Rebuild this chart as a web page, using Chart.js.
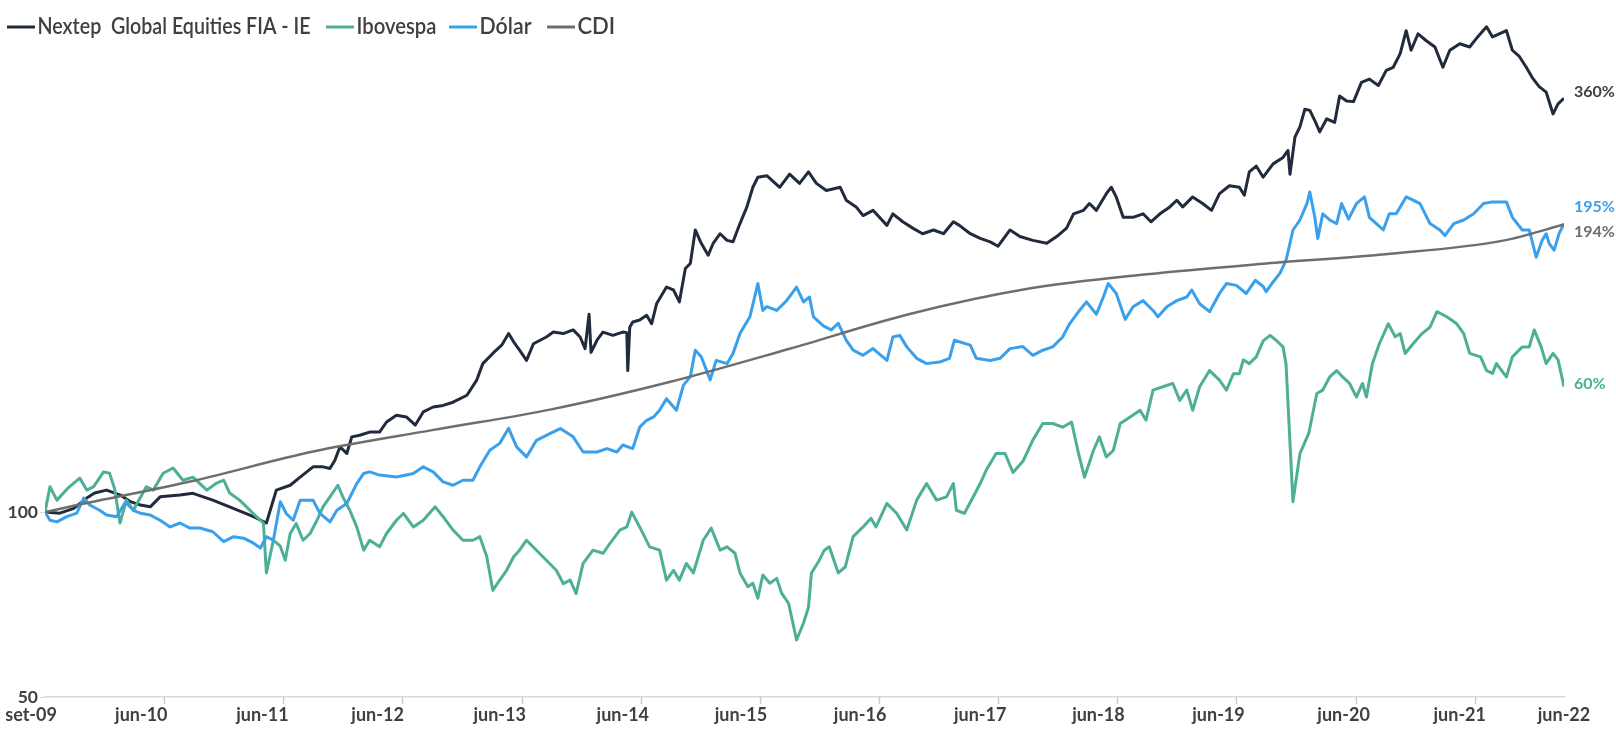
<!DOCTYPE html>
<html>
<head>
<meta charset="utf-8">
<script src="https://cdn.jsdelivr.net/npm/chart.js@4.4.1/dist/chart.umd.min.js"></script>
<style>
  html, body { margin: 0; padding: 0; background: #fff; }
  canvas { display: block; }
</style>
</head>
<body>
<canvas id="myChart" width="1616" height="739"></canvas>
<script>
// months counted from set-09 (0) to jun-22 (153), values are index levels (base 100)
const nextepMonths = [0,1.5,2.9,4.2,5,6.2,7.6,8.6,9.6,10.6,
  11.6,13.6,14.9,16.9,18.9,21,22.3,23.3,24.7,25.7,
  27,28,28.7,29.2,29.7,30.4,30.9,31.7,32.7,33.7,
  34.4,35.4,36.4,37.3,38.1,39.1,40.1,41.1,42.5,43.5,
  44.1,45.1,46,46.7,47.2,47.8,48.5,49.2,50.5,51.2,
  52.2,53.2,53.9,54.4,54.8,55,55.6,56.2,57.2,58.2,
  58.6,58.7,58.9,59.2,59.9,60.6,61.1,61.6,62.6,63.3,
  63.9,64.5,65,65.5,66.1,66.8,67.3,68,68.7,69.3,
  70,70.7,71.3,71.8,72.7,74,75,76,76.9,77.7,
  78.7,80.1,80.7,81.7,82.4,83.4,84.8,85.4,86.4,87.4,
  88.4,89.5,90.5,91.5,92.1,93.2,94.2,95.2,96,97.2,
  98.2,99.5,100.9,101.9,102.9,103.6,104.6,105.2,105.9,106.9,
  107.4,107.9,108.6,109.6,110.6,111.4,112.3,113.3,114,114.6,
  115.6,116.6,117.5,118.3,119.3,120.3,120.8,121.3,122,122.7,
  123.7,124.7,125.2,125.4,125.9,126.4,126.9,127.4,127.9,128.4,
  129.1,129.9,130.4,131.1,131.8,132.6,133.4,134.3,135.1,135.8,
  136.5,137.1,137.6,138.3,139.1,140,140.8,141.5,142.5,143.5,
  144.3,145.2,145.8,147.2,147.8,148.5,149.2,149.8,150.5,151.2,
  151.9,152.4,153];
const nextepValues = [100,99.6,101.4,105.4,107.4,108.6,106.6,104,102.7,102,
  105.9,106.6,107.3,104.6,101.5,98.3,96,108.6,110.6,114,
  118.5,118.5,117.8,121.5,127.7,124.6,132.6,133.4,135,135,
  140.2,143.8,142.9,138.6,145.6,148.3,149.2,151,155,164.2,
  174.5,181.3,187,195.3,189.4,183.5,176.6,188,192.8,196.4,
  195.3,198,192.8,184.6,210,182,190.5,196.4,194,196.4,
  196,170,200,204,205.5,209.2,202.6,218.4,232.5,230,
  220,249.3,254,288,274,262,274,284,277,275.5,
  295,314,338,351,353,338,355,343,358,343,
  334,338,322,314,304,310,293,306,297,290,
  284,288,284,297,293,284,279,275.5,271,288,
  281,277,274,281,290,306,310,318,310,330,
  338,326,302,302,306,297,306,314,322,314,
  326,318,310,330,340,338,328,358,366,351,
  369,378,388,355,408,424,453,451,434,416,
  437,431,476,467,466,501,507,495,524,530,
  558,608,565,601,586,572,530,565,579,572,
  594,617,594,608,565,552,530,510,493,483,
  445,462,472];

const ibovMonths = [0,0.5,1.2,2.3,3.5,4.2,4.9,5.9,6.5,7,
  7.55,8.2,8.9,10.2,10.9,11.9,12.9,13.9,14.9,16.3,
  17.3,18,18.6,19.6,20.3,21.3,22,22.3,23,23.7,
  24.2,24.7,25.3,26,26.7,27.4,28,28.7,29.5,30,
  30.7,31.4,32.1,32.7,33.7,34.4,35.4,36.1,37.1,38.1,
  39.3,40.1,41.1,42.1,43.1,43.8,44.5,45.1,45.8,46.5,
  47.2,47.8,48.5,49.5,50.5,51.5,52.2,52.9,53.5,54.2,
  55.2,56.2,56.9,57.9,58.6,59.1,59.9,60.9,61.9,62.6,
  63.3,63.9,64.6,65.3,66.3,67.1,68,68.7,69.5,70,
  70.8,71.3,71.8,72.3,73,73.7,74.2,74.9,75.7,76.4,
  76.9,77.2,77.9,78.5,79,79.9,80.6,81.4,82.4,83.2,
  83.7,84.8,85.8,86.8,87.8,88.8,89.8,90.8,91.5,91.8,
  92.6,93.5,94.2,94.8,95.8,96.7,97.5,98.5,99.5,100.5,
  101.5,102.5,103.4,104.1,104.7,105.6,106.2,106.9,107.6,108.3,
  109.3,110.3,110.9,111.6,112.6,113.6,114.3,115,115.6,116.3,
  117.3,118.3,119,119.7,120.3,120.7,121.3,122,122.7,123.4,
  124,124.7,125,125.7,126.4,127.3,128.1,128.7,129.4,130.1,
  130.7,131.4,132.1,132.7,133.1,133.7,134.4,135.3,136,136.5,
  137,137.8,138.7,139.5,140.2,141.2,142.2,142.9,143.5,144.6,
  145.2,145.8,146.2,147.2,147.8,148.8,149.5,150,150.7,151.2,
  151.9,152.4,153];
const ibovValues = [100,110,104.6,109.4,113.6,108.6,110,116.3,115.7,109.4,
  96,104.6,100.7,110,108.6,115.7,118,112.7,114,108.6,
  111.5,112.7,107.4,104.6,102,98.3,96,79.6,90,88,
  83.5,92.3,95.8,90,92.3,97,102,105.9,110.6,105.9,
  100.7,94.6,86.7,90,87.8,92.3,97,99.5,94.6,97,
  102,98.3,93.5,90,90,91.2,84.6,74.6,77.5,80.4,
  84.6,86.7,90,86.7,83.5,80.4,76.5,77.5,73.7,82.5,
  86.7,85.7,88.9,93.5,94.6,100,94.6,87.8,86.7,77.5,
  80.4,77.5,82.5,79.6,90,94.2,86.7,87.8,85.7,79.6,
  75.6,76.6,72.4,79,76.6,78,73.8,71,61.9,66,
  70,79.6,83,86.7,87.8,79.6,81.4,91.2,94.6,97.7,
  94.6,103.3,99.5,93.5,104.6,111.3,104.6,105.9,111.3,100.7,
  99.5,105.9,111.3,117,124.6,124.6,116,121,131,139.4,
  139.4,137.5,140.2,124.6,114,126,132.6,123,126,139.4,
  142.9,146.5,141.1,158,160,162,152,158,146.5,160,
  170,164,158,168,168,177,174.5,179,190,194,
  190.5,185.8,174.5,104,124.5,134.5,156,158,166,170,
  166,162,154,162,154,174.5,188,202.6,193,195.3,
  181.3,188,195.3,200,212,208,202.6,195.3,181.3,179,
  170,168.2,174.5,166,179,185.8,185.8,198,185.8,174.5,
  181.3,177,160];

const dolarMonths = [0,0.5,1.2,2.2,3.2,3.9,4.5,5.5,6.2,7.2,
  8.1,8.9,9.6,10.6,11.6,12.6,13.6,14.6,15.6,16.9,
  18,19,20,21,21.7,22.3,23,23.7,24.3,25,
  25.7,27,27.7,28.7,29.4,30.4,31.4,32.1,32.7,33.7,
  35.4,37.1,38.1,39.1,40.1,41.1,42.1,43.1,43.8,44.8,
  45.8,46.7,47.5,48.5,49.5,50.9,51.9,53.2,54.2,55.6,
  56.6,57.6,58.2,59.2,59.9,60.6,61.3,61.9,62.6,63.6,
  64.3,65,65.5,66.1,67,67.6,68.7,69.3,70,71,
  71.8,72.3,72.7,73.7,74.7,75.7,76.4,77,77.4,78.4,
  79.2,79.9,80.7,81.4,82.4,83.4,84.8,85.4,86.1,86.8,
  87.8,88.8,90.1,91.1,91.6,93.2,93.8,95.2,96.2,97.2,
  98.5,99.5,100.5,101.5,102.5,103.2,104.2,104.9,105.9,106.6,
  107.1,107.9,108.8,109.6,110.6,111.6,112.1,113,114,115,
  115.5,116.3,117.3,118.3,119,120,121,121.9,122.7,123,
  123.7,124.4,125,125.4,125.7,126.4,127.1,127.4,127.9,128.2,
  128.7,129.4,130.1,130.6,131.3,132.1,132.9,133.4,134.1,134.8,
  135.4,136.1,137.1,137.8,138.5,139.5,140.5,141,141.9,142.9,
  143.9,144.9,145.8,147.2,147.8,148.8,149.5,150.2,150.8,151.2,
  151.5,152,152.5,153];
const dolarValues = [100,97,96.4,98.3,99.6,105.4,102.7,100.7,98.9,98.3,
  103.8,100.7,99.6,98.9,97,94.6,96,94.2,94.2,92.9,
  89.5,91.2,90.7,89,87.4,91.2,90,104,99.5,97,
  104.6,104.6,99.5,96.4,100.7,103.3,111.3,115.6,116.3,114.9,
  114.1,115.6,118.5,116.3,112,110.6,112.7,112.7,118.5,126.1,
  129.4,136.9,127.7,123,130.9,134.3,136.8,132.6,125.3,125.3,
  126.9,125.3,128.6,126.9,137.5,141.1,142.9,146.5,153,146.5,
  160.8,166.2,183.5,179,164.2,176.6,174.5,181.3,195.3,208,
  235.6,213,216,213,221,232.5,220,224,208,201,
  198,203,190.5,183.5,180,184.6,176.6,192.8,194,185.8,
  178,174.5,175.5,178,190.5,187,178,176.6,178,184.6,
  186,180,183.5,185.8,192.8,202.6,213,220,210,224,
  235.6,227,206,216,221,213,208,216,221,224,
  230,218.4,212,227,235.6,234,227,238.5,233,228.5,
  237,245,257,274,288,299,318,332,302,279,
  306,299,295,318,300,318,326,302,295,288,
  306,306,326,322,318,295,288,282,295,299,
  306,318,320,320,302,288,288,260,277,284,
  274,267,284,295];

const cdiMonths = [0,3,15,27,39,51,63,75,87,99,111,123,135,147,153];
const cdiValues = [100,102.5,112.5,125.5,136,147,163,184.5,210,231,244,254,263,277,294];

const seriesNames = ['Nextep  Global Equities FIA - IE', 'Ibovespa', 'Dólar', 'CDI'];
const endLabels = ['360%', '60%', '195%', '194%'];

// x axis labels and the small tick marks under the axis
const tickPos = [-1.4, 9.7, 21.9, 33.5, 45.8, 58.2, 70.1, 82.1, 94.2, 106.1, 118.2, 130.8, 142.5, 153];
const tickLabels = ['set-09','jun-10','jun-11','jun-12','jun-13','jun-14','jun-15','jun-16','jun-17','jun-18','jun-19','jun-20','jun-21','jun-22'];
const markPos = [12, 24, 36, 48, 60, 72, 84, 96, 108, 120, 132, 144];

const colors = ['#212b3d', '#4caf96', '#3aa0eb', '#6e6e6e'];
const labelColors = ['#404040', '#4caf96', '#3aa0eb', '#6e6e6e'];
const labelShift = [-6, -3, -17, 7];
// legend layout: where each legend line starts, and the room for its text
const legendX = [7, 326, 449, 547];
const legendTextMax = [273, 80, 52, 40];

function pts(ms, vs) {
  return ms.map((m, i) => ({ x: m, y: vs[i] }));
}

const extras = {
  id: 'extras',
  afterDraw(chart) {
    const ctx = chart.ctx;
    const xs = chart.scales.x;
    const area = chart.chartArea;
    ctx.save();
    // tick marks under the axis
    ctx.strokeStyle = '#cccccc';
    ctx.lineWidth = 1.5;
    markPos.forEach(m => {
      const px = Math.round(xs.getPixelForValue(m)) + 0.5;
      ctx.beginPath();
      ctx.moveTo(px, area.bottom);
      ctx.lineTo(px, area.bottom + 7);
      ctx.stroke();
    });
    // labels at the end of each line
    ctx.font = 'bold 16px Lato';
    ctx.textBaseline = 'middle';
    ctx.textAlign = 'left';
    chart.data.datasets.forEach((ds, i) => {
      const meta = chart.getDatasetMeta(i);
      const last = meta.data[meta.data.length - 1];
      ctx.fillStyle = labelColors[i];
      ctx.fillText(endLabels[i], last.x + 10, last.y + labelShift[i]);
    });
    // legend
    const y = 27;
    ctx.font = '600 22px Lato';
    chart.data.datasets.forEach((ds, i) => {
      const x = legendX[i];
      ctx.strokeStyle = ds.borderColor;
      ctx.lineWidth = 3;
      ctx.beginPath();
      ctx.moveTo(x, y);
      ctx.lineTo(x + 28, y);
      ctx.stroke();
      ctx.fillStyle = '#404040';
      ctx.fillText(ds.label, x + 30.5, y, legendTextMax[i]);
    });
    ctx.restore();
  }
};

const ctx = document.getElementById('myChart');
const myChart = new Chart(ctx, {
  type: 'line',
  data: {
    datasets: [
      { label: seriesNames[0], data: pts(nextepMonths, nextepValues), borderColor: colors[0], borderWidth: 3, order: 3 },
      { label: seriesNames[1], data: pts(ibovMonths, ibovValues), borderColor: colors[1], borderWidth: 3, order: 2 },
      { label: seriesNames[2], data: pts(dolarMonths, dolarValues), borderColor: colors[2], borderWidth: 3, order: 1 },
      { label: seriesNames[3], data: pts(cdiMonths, cdiValues), borderColor: colors[3], borderWidth: 2.5, order: 0, cubicInterpolationMode: 'monotone' }
    ]
  },
  options: {
    responsive: false,
    animation: false,
    elements: { point: { radius: 0 }, line: { tension: 0, borderJoinStyle: 'round' } },
    layout: { padding: { top: 17, right: 52, left: 0, bottom: 0 } },
    plugins: { legend: { display: false }, tooltip: { enabled: false } },
    scales: {
      x: {
        type: 'linear',
        min: 0,
        max: 153,
        afterBuildTicks: s => { s.ticks = tickPos.map(v => ({ value: v })); },
        afterFit: s => { s.height = 42; s.paddingLeft = 0; s.paddingRight = 0; },
        ticks: {
          autoSkip: false,
          maxRotation: 0,
          padding: 7,
          color: '#404040',
          font: { family: 'Lato', size: 18, weight: 'bold' },
          callback: (v, i) => tickLabels[i]
        },
        grid: { display: false, drawTicks: false },
        border: { display: true, color: '#d9d9d9', width: 1.5 }
      },
      y: {
        type: 'logarithmic',
        min: 50,
        max: 640,
        afterBuildTicks: s => { s.ticks = [{ value: 50 }, { value: 100 }]; },
        afterFit: s => { s.width = 45; },
        ticks: {
          padding: 2,
          color: '#404040',
          font: { family: 'Lato', size: 17.5, weight: 'bold' },
          callback: v => String(v)
        },
        grid: { display: true, drawOnChartArea: false, drawTicks: true, tickLength: 5, color: '#d9d9d9' },
        border: { display: false }
      }
    }
  },
  plugins: [extras]
});
</script>
</body>
</html>
